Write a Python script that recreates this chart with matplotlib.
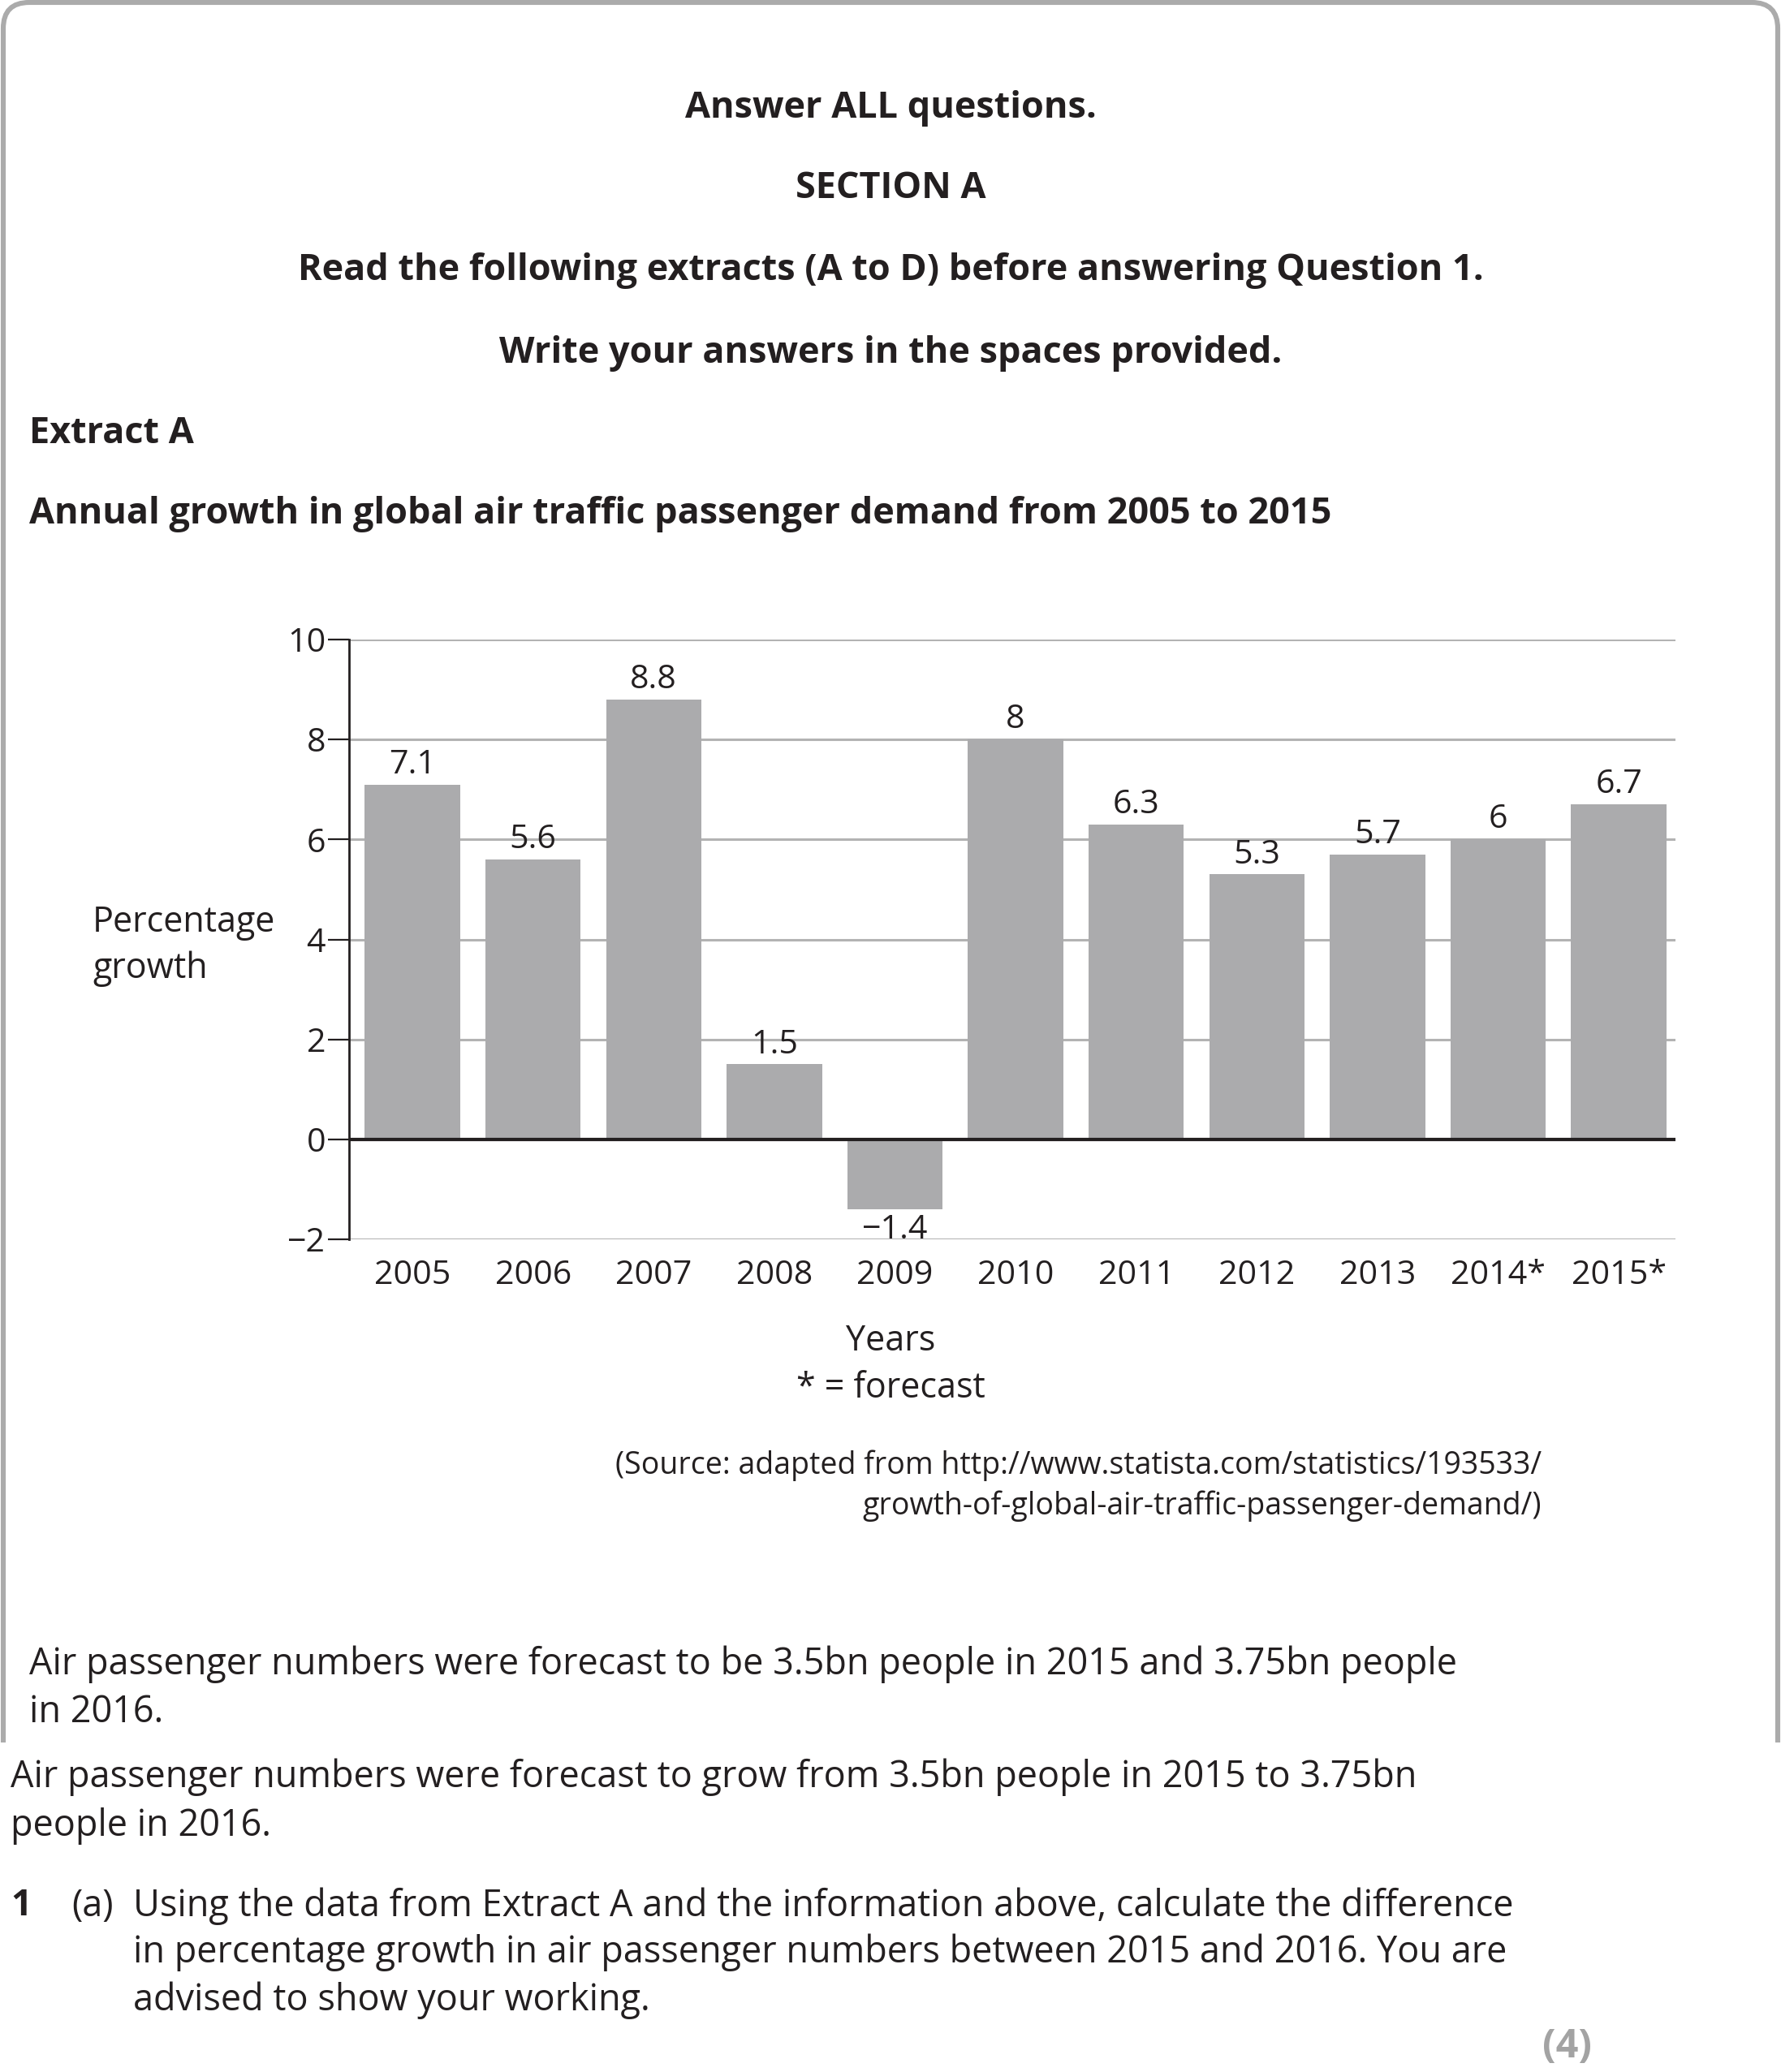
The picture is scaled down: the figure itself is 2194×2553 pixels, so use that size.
import numpy as np
import matplotlib
matplotlib.use("Agg")
import matplotlib.pyplot as plt
from matplotlib.path import Path
from matplotlib.patches import PathPatch
import matplotlib.transforms as mtrans

years = ["2005", "2006", "2007", "2008", "2009", "2010", "2011", "2012", "2013", "2014*", "2015*"]
growth = [7.1, 5.6, 8.8, 1.5, -1.4, 8, 6.3, 5.3, 5.7, 6, 6.7]
labels = ["7.1", "5.6", "8.8", "1.5", "\u22121.4", "8", "6.3", "5.3", "5.7", "6", "6.7"]
yticks = [-2, 0, 2, 4, 6, 8, 10]
ytick_labels = ["\u22122", "0", "2", "4", "6", "8", "10"]

W, H = 2194, 2553
DPI = 200
INK = "#231f20"
BAR = "#ababad"
GRID = "#b3b3b3"
HEAD = 16.2
BODY = 16.2

plt.rcParams["font.family"] = ["Open Sans", "DejaVu Sans"]

fig = plt.figure(figsize=(W / DPI, H / DPI), dpi=DPI)
fig.patch.set_facecolor("white")

# pixel coords (from top-left) -> figure
pix = mtrans.Affine2D().scale(1 / W, -1 / H).translate(0, 1) + fig.transFigure


def txt(x, y, s, size=BODY, weight="normal", ha="left", color=INK):
    fig.text(x, y + 4, s, transform=pix, fontsize=size, fontweight=weight,
             ha=ha, va="center", color=color)


# open rounded frame
r = 32
verts = [(4, 2147), (4, 3 + r), (4, 3), (4 + r, 3), (2190 - r, 3), (2190, 3),
         (2190, 3 + r), (2190, 2147)]
codes = [Path.MOVETO, Path.LINETO, Path.CURVE3, Path.CURVE3, Path.LINETO,
         Path.CURVE3, Path.CURVE3, Path.LINETO]
fig.patches.append(PathPatch(Path(verts, codes), transform=pix, fill=False,
                             edgecolor="#ababab", linewidth=2.2))

# headings
txt(1097, 130, "Answer ALL questions.", HEAD, "bold", "center")
txt(1097, 229, "SECTION A", HEAD, "bold", "center")
txt(1097, 330, "Read the following extracts (A to D) before answering Question 1.", HEAD, "bold", "center")
txt(1097, 431, "Write your answers in the spaces provided.", HEAD, "bold", "center")
txt(36, 531, "Extract A", HEAD, "bold")
txt(36, 630, "Annual growth in global air traffic passenger demand from 2005 to 2015", HEAD, "bold")

# chart
ax = fig.add_axes([430 / W, 1 - 1527 / H, (2064 - 430) / W, (1527 - 788) / H])
x = np.arange(len(years))
ax.set_axisbelow(True)
ax.yaxis.grid(True, color=GRID, linewidth=1.1)
ax.bar(x, growth, width=0.79, color=BAR, zorder=2)
ax.axhline(0, color=INK, linewidth=1.5, zorder=3)
ax.set_xlim(-0.525, 10.47)
ax.set_ylim(-2, 10)
ax.set_yticks(yticks)
ax.set_yticklabels(ytick_labels)
ax.set_xticks(x)
ax.set_xticklabels(years)
for s in ["top", "right", "bottom"]:
    ax.spines[s].set_visible(False)
ax.spines["left"].set_color(INK)
ax.spines["left"].set_linewidth(1.0)
ax.tick_params(axis="y", length=9.4, width=0.8, color=INK, pad=1,
               labelsize=14.8, labelcolor=INK)
ax.tick_params(axis="x", length=0, pad=9, labelsize=14.8, labelcolor=INK)

for xi, v, lab in zip(x, growth, labels):
    if v >= 0:
        ax.annotate(lab, (xi, v), xytext=(0, 5), textcoords="offset points",
                    ha="center", va="baseline", fontsize=14.8, color=INK)
    else:
        ax.annotate(lab, (xi, v), xytext=(0, -2), textcoords="offset points",
                    ha="center", va="top", fontsize=14.8, color=INK)

txt(114, 1133, "Percentage", 15.5)
txt(114, 1190, "growth", 15.5)
txt(1097, 1649, "Years", 15.5, ha="center")
txt(1097, 1707, "* = forecast", 15.5, ha="center")
txt(1899, 1802, "(Source: adapted from http://www.statista.com/statistics/193533/", 13.5, ha="right")
txt(1899, 1852, "growth-of-global-air-traffic-passenger-demand/)", 13.5, ha="right")

# text below
txt(36, 2047, "Air passenger numbers were forecast to be 3.5bn people in 2015 and 3.75bn people")
txt(36, 2106, "in 2016.")
txt(13, 2186, "Air passenger numbers were forecast to grow from 3.5bn people in 2015 to 3.75bn")
txt(13, 2246, "people in 2016.")
txt(13, 2345, "1", BODY, "bold")
txt(88, 2345, "(a)")
txt(164, 2345, "Using the data from Extract A and the information above, calculate the difference")
txt(164, 2402, "in percentage growth in air passenger numbers between 2015 and 2016. You are")
txt(164, 2461, "advised to show your working.")
txt(1930, 2518, "(4)", 17.5, "bold", "center", color="#a3a3a3")

fig.savefig("out.png", dpi=DPI)
